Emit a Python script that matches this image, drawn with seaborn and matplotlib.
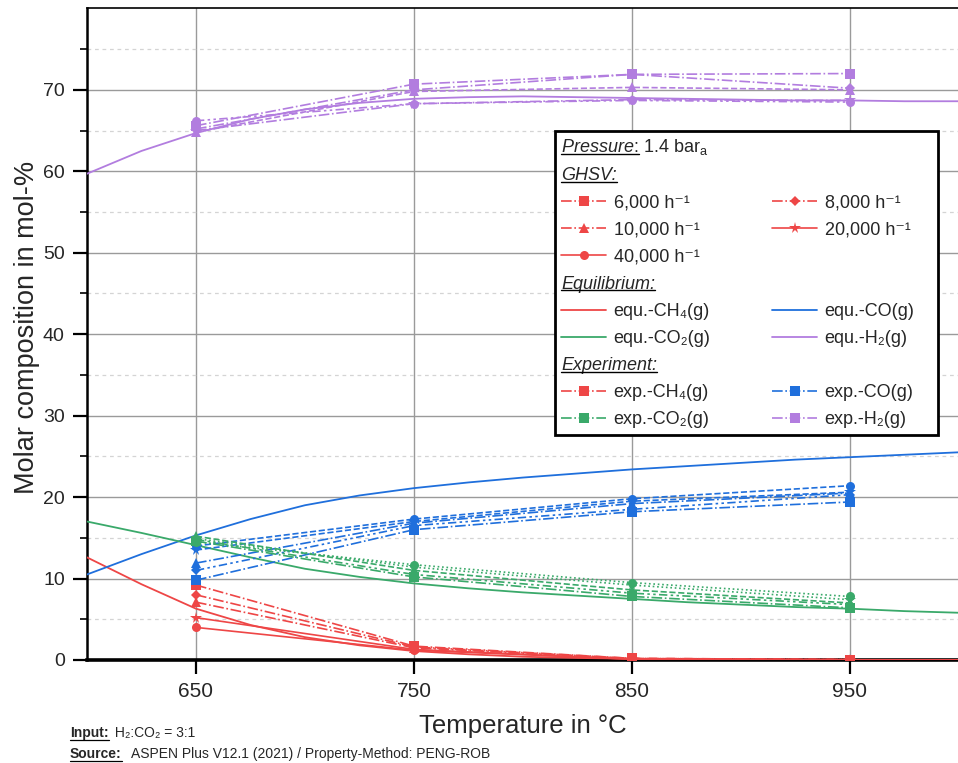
import matplotlib
matplotlib.use("Agg")
import matplotlib.pyplot as plt
import seaborn as sns
import pandas as pd
from matplotlib.lines import Line2D
from matplotlib.ticker import FixedLocator

# ---------------- data ----------------
# equilibrium composition (ASPEN, dry basis), mol-%
eq_temp = [600, 625, 650, 675, 700, 725, 750, 775, 800, 825, 850, 875, 900, 925, 950, 975, 1000]
eq_ch4 = [12.6, 9.3, 6.3, 4.3, 2.8, 1.8, 1.1, 0.7, 0.4, 0.25, 0.15, 0.1, 0.05, 0.03, 0.02, 0.01, 0.01]
eq_co = [10.5, 13.0, 15.3, 17.3, 19.0, 20.2, 21.1, 21.8, 22.4, 22.9, 23.4, 23.8, 24.2, 24.6, 24.9, 25.2, 25.5]
eq_co2 = [17.0, 15.6, 14.1, 12.6, 11.2, 10.2, 9.4, 8.8, 8.3, 7.9, 7.5, 7.1, 6.8, 6.5, 6.3, 6.0, 5.8]
eq_h2 = [59.7, 62.5, 64.7, 66.4, 67.6, 68.4, 68.9, 69.1, 69.2, 69.1, 69.0, 68.9, 68.8, 68.7, 68.7, 68.6, 68.6]

# experiments: one list per GHSV (6,000 / 8,000 / 10,000 / 20,000 / 40,000 h-1)
exp_temp = [650, 750, 850, 950]
ghsv = ["6,000", "8,000", "10,000", "20,000", "40,000"]
exp_ch4 = [[9.2, 1.7, 0.2, 0.05],
           [8.0, 1.6, 0.2, 0.05],
           [7.1, 1.5, 0.15, 0.05],
           [5.2, 1.3, 0.1, 0.0],
           [4.0, 1.2, 0.1, 0.0]]
exp_co = [[9.8, 16.0, 18.2, 19.4],
          [11.0, 16.5, 18.5, 20.3],
          [11.9, 16.8, 19.2, 20.5],
          [13.5, 17.0, 19.5, 20.6],
          [14.0, 17.3, 19.8, 21.4]]
exp_co2 = [[14.6, 10.2, 7.8, 6.4],
           [14.8, 10.5, 8.2, 6.8],
           [15.2, 11.0, 8.6, 7.0],
           [14.9, 11.4, 9.2, 7.4],
           [14.5, 11.7, 9.5, 7.8]]
exp_h2 = [[65.6, 70.7, 71.9, 72.0],
          [65.2, 70.0, 71.9, 70.2],
          [64.8, 69.8, 70.3, 70.0],
          [65.0, 68.3, 68.8, 68.7],
          [66.2, 68.3, 68.7, 68.5]]

# ---------------- style ----------------
sns.set_theme(style="white")
plt.rcParams["font.family"] = ["Liberation Sans", "DejaVu Sans"]
plt.rcParams["mathtext.fontset"] = "custom"
plt.rcParams["mathtext.rm"] = "Liberation Sans"
plt.rcParams["mathtext.it"] = "Liberation Sans:italic"
plt.rcParams["mathtext.bf"] = "Liberation Sans:bold"

RED = "#ee4646"
BLUE = "#1f6fdc"
GREEN = "#3aa96a"
PURPLE = "#b27ddf"
DDOT = (0, (5, 2, 1.5, 2, 1.5, 2))

markers = ["s", "D", "^", "*", "o"]
msizes = [6.5, 5.5, 7, 8.5, 6.5]
styles = {
    "CH4": ["-.", "-.", "-.", "-", "-"],
    "CO": ["-.", DDOT, "-.", "--", "--"],
    "CO2": ["-.", DDOT, "--", ":", ":"],
    "H2": ["-.", "-.", "--", "-.", DDOT],
}

fig = plt.figure(figsize=(9.58, 7.63), dpi=100)
ax = fig.add_axes([0.0908, 0.135, 0.9102, 0.854])

# equilibrium curves
eq_df = pd.DataFrame({"T": eq_temp, "CH4": eq_ch4, "CO": eq_co, "CO2": eq_co2, "H2": eq_h2})
for sp, col in [("CH4", RED), ("CO", BLUE), ("CO2", GREEN), ("H2", PURPLE)]:
    sns.lineplot(data=eq_df, x="T", y=sp, color=col, lw=1.3, ax=ax, sort=False,
                 errorbar=None, legend=False, zorder=3)

# experimental series
for sp, col, table in [("CH4", RED, exp_ch4), ("CO", BLUE, exp_co),
                       ("CO2", GREEN, exp_co2), ("H2", PURPLE, exp_h2)]:
    for i, vals in enumerate(table):
        sns.lineplot(x=exp_temp, y=vals, color=col, linestyle=styles[sp][i], lw=1.2,
                     marker=markers[i], markersize=msizes[i], markeredgewidth=0,
                     ax=ax, sort=False, errorbar=None, legend=False, zorder=4)

# axes
ax.set_xlim(600, 1000)
ax.set_ylim(0, 80)
ax.xaxis.set_major_locator(FixedLocator([650, 750, 850, 950]))
ax.yaxis.set_major_locator(FixedLocator(list(range(0, 71, 10))))
ax.yaxis.set_minor_locator(FixedLocator(list(range(5, 80, 10))))
ax.grid(which="major", axis="both", color="#9a9a9a", lw=1.0, ls="-", zorder=0)
ax.grid(which="minor", axis="y", color="#d4d4d4", lw=0.9, ls=(0, (3, 3)), zorder=0)
ax.set_axisbelow(True)
ax.tick_params(axis="both", which="major", direction="out", length=10, width=1.6,
               labelsize=14, color="black", pad=6, left=True, bottom=True)
ax.tick_params(axis="y", which="minor", direction="out", length=5, width=1.2,
               color="black", left=True)
for lab in ax.get_xticklabels():
    lab.set_fontfamily(["Liberation Sans Narrow", "Liberation Sans"])
    lab.set_fontsize(15)
ax.spines["left"].set_linewidth(1.8)
ax.spines["bottom"].set_linewidth(2.6)
ax.spines["top"].set_linewidth(1.2)
ax.spines["right"].set_visible(False)
for s in ["left", "bottom", "top"]:
    ax.spines[s].set_color("black")

ax.set_xlabel("Temperature in °C", fontsize=18.5)
ax.set_ylabel("Molar composition in mol-%", fontsize=19.5)
ax.xaxis.set_label_coords(0.5, -0.083)
ax.yaxis.set_label_coords(-0.054, 0.51)

# ---------------- legend ----------------
blank = Line2D([], [], color="none")


def ghsv_handle(i):
    return Line2D([], [], color=RED, ls=styles["CH4"][i], lw=1.2,
                  marker=markers[i], markersize=msizes[i], markeredgewidth=0)


def eq_handle(c):
    return Line2D([], [], color=c, lw=1.3)


def exp_handle(c):
    return Line2D([], [], color=c, ls="-.", lw=1.2, marker="s", markersize=6.5,
                  markeredgewidth=0)


hdr_p = r"$\mathit{Pressure}$: 1.4 bar$_\mathregular{a}$"
hdr_g = "GHSV:"
hdr_e = "Equilibrium:"
hdr_x = "Experiment:"
PAD = "equ.-CO₂(g)n"   # invisible filler that sets the width of the right column
col1 = [(blank, hdr_g),
        (ghsv_handle(0), ghsv[0] + " h⁻¹"),
        (ghsv_handle(2), ghsv[2] + " h⁻¹"),
        (ghsv_handle(4), ghsv[4] + " h⁻¹"),
        (blank, hdr_e),
        (eq_handle(RED), "equ.-CH₄(g)"),
        (eq_handle(GREEN), "equ.-CO₂(g)"),
        (blank, hdr_x),
        (exp_handle(RED), "exp.-CH₄(g)"),
        (exp_handle(GREEN), "exp.-CO₂(g)")]
col2 = [(blank, PAD),
        (ghsv_handle(1), ghsv[1] + " h⁻¹"),
        (ghsv_handle(3), ghsv[3] + " h⁻¹"),
        (blank, PAD), (blank, PAD),
        (eq_handle(BLUE), "equ.-CO(g)"),
        (eq_handle(PURPLE), "equ.-H₂(g)"),
        (blank, PAD),
        (exp_handle(BLUE), "exp.-CO(g)"),
        (exp_handle(PURPLE), "exp.-H₂(g)")]
handles = [h for h, _ in col1 + col2]
labels = [l for _, l in col1 + col2]
header_idx = [0, 4, 7]
pad_idx = [len(col1) + k for k, (_, l) in enumerate(col2) if l == PAD]

LEG_FS = 13
HL, HTP = 2.5, 0.4
leg = ax.legend(handles, labels, ncol=2, loc="upper left",
                bbox_to_anchor=(0.5367, 0.343, 0.439, 0.469), mode="expand",
                fontsize=LEG_FS, handlelength=HL, handletextpad=HTP,
                labelspacing=0.56, columnspacing=1.0, borderpad=0.35,
                borderaxespad=0, fancybox=False, framealpha=1, edgecolor="black",
                title=hdr_p, title_fontsize=LEG_FS, alignment="left")
leg.get_frame().set_linewidth(2.0)
leg.set_zorder(10)

shift_px = (HL + HTP) * LEG_FS * fig.dpi / 72.0
texts = leg.get_texts()
header_texts = []
for k in header_idx:
    t = texts[k]
    t.set_position((-shift_px, 0))
    t.set_fontstyle("italic")
    header_texts.append(t)
for k in pad_idx:
    texts[k].set_color("none")

# ---------------- footnote ----------------
note_y1 = 1 - 737 / 763
note_y2 = 1 - 758 / 763
note_x = 70 / 958
NOTE_FS = 10
t_in = fig.text(note_x, note_y1, "Input:", fontsize=NOTE_FS, fontweight="bold", va="baseline")
t_src = fig.text(note_x, note_y2, "Source:", fontsize=NOTE_FS, fontweight="bold", va="baseline")

fig.canvas.draw()
renderer = fig.canvas.get_renderer()
inv = fig.transFigure.inverted()


def underline(x0, x1, y, lw=1.0):
    (fx0, fy), (fx1, _) = inv.transform([(x0, y), (x1, y)])
    fig.add_artist(Line2D([fx0, fx1], [fy, fy], color="black", lw=lw,
                          transform=fig.transFigure, zorder=20))


# underline the legend section headers
for t in header_texts:
    bb = t.get_window_extent(renderer)
    underline(bb.x0, bb.x1, bb.y0 + 2.5, lw=1.0)
title = leg.get_title()
bb = title.get_window_extent(renderer)
tmp = fig.text(0, 0, r"$\mathit{Pressure}$:", fontsize=LEG_FS)
wp = tmp.get_window_extent(renderer).width
tmp.remove()
underline(bb.x0, bb.x0 + wp, bb.y0 + 3.5, lw=1.0)

# footnote: bold underlined key followed by the regular text
for key, rest in [(t_in, " H₂:CO₂ = 3:1"),
                  (t_src, "  ASPEN Plus V12.1 (2021) / Property-Method: PENG-ROB")]:
    bb = key.get_window_extent(renderer)
    underline(bb.x0, bb.x1, bb.y0 + 0.5, lw=0.9)
    fx = inv.transform((bb.x1 + 2, 0))[0]
    fig.text(fx, key.get_position()[1], rest, fontsize=NOTE_FS, va="baseline")

fig.savefig("out.png", dpi=100)
